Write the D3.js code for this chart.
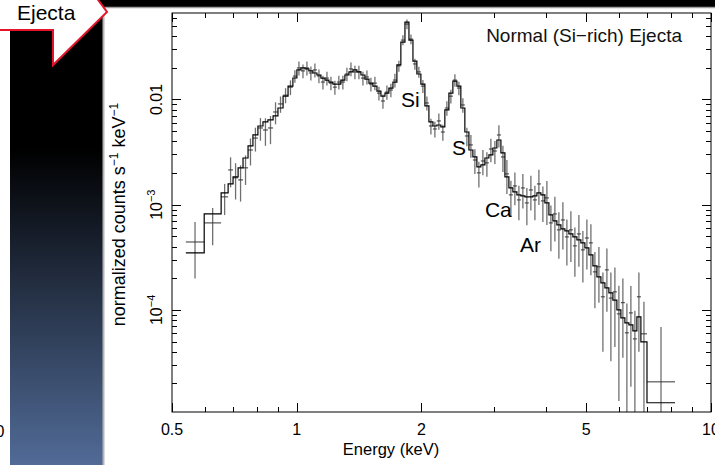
<!DOCTYPE html>
<html>
<head>
<meta charset="utf-8">
<script src="https://cdn.jsdelivr.net/npm/d3@7"></script>
<style>
  html, body { margin: 0; padding: 0; background: #fff; }
  svg { display: block; font-family: "Liberation Sans", Arial, Helvetica, sans-serif; }
</style>
</head>
<body>
<svg id="chart" width="715" height="465"></svg>
<script>
// Spectrum bins: energy edges (keV), measured rate, 1-sigma error, folded model
const edges = [
  0.540, 0.598, 0.657, 0.683, 0.702, 0.722, 0.742, 0.763, 0.784, 0.806, 0.829, 0.852, 0.877, 0.901, 0.927, 0.953, 0.979,
  1.001, 1.024, 1.047, 1.070, 1.094, 1.119, 1.144, 1.170, 1.196, 1.223, 1.250, 1.278, 1.307, 1.337, 1.367, 1.397,
  1.429, 1.461, 1.494, 1.527, 1.562, 1.597, 1.633, 1.669, 1.707, 1.745, 1.784, 1.825, 1.866, 1.908, 1.950, 1.994,
  2.039, 2.085, 2.132, 2.179, 2.228, 2.278, 2.330, 2.382, 2.436, 2.490, 2.546, 2.604, 2.662, 2.722, 2.783, 2.846,
  2.910, 2.975, 3.042, 3.111, 3.181, 3.252, 3.325, 3.400, 3.476, 3.554, 3.634, 3.716, 3.800, 3.885, 3.972, 4.062,
  4.153, 4.246, 4.342, 4.439, 4.539, 4.641, 4.746, 4.852, 4.961, 5.073,
  5.187, 5.304, 5.423, 5.545, 5.669, 5.797, 5.927, 6.060, 6.196, 6.336, 6.478, 6.624, 6.773, 7.006, 8.187
];

const rate = [
  0.000442, 0.000671, 0.001187, 0.00214, 0.0018, 0.00172, 0.00224, 0.00331, 0.0043, 0.00536, 0.00513, 0.00536,
  0.00761, 0.00907, 0.0110, 0.0131, 0.0167,
  0.01995, 0.01869, 0.01995, 0.01786, 0.0191, 0.01673, 0.01465, 0.01598, 0.01431, 0.01311,
  0.01465, 0.01465, 0.01748, 0.01952, 0.01828, 0.01828, 0.01598, 0.01637, 0.0140, 0.01431,
  0.01149, 0.009676, 0.01177, 0.0123, 0.0153, 0.02084, 0.0367, 0.05213, 0.03751, 0.02177,
  0.01828, 0.0134, 0.009266, 0.0056, 0.005243, 0.006252, 0.00491, 0.0083, 0.01076, 0.0153,
  0.01285, 0.00887, 0.0045, 0.0037, 0.00266, 0.002006, 0.002603, 0.002497, 0.003383, 0.003239,
  0.0046, 0.002843, 0.001962, 0.00124, 0.001507, 0.00111, 0.001442, 0.001039, 0.00138, 0.00111,
  0.001574, 0.001086, 0.00116, 0.000671, 0.000817, 0.000576, 0.000716, 0.000494, 0.000576, 0.000406,
  0.0005274, 0.000372, 0.0004826,
  0.0004335, 0.0002298, 0.0002566, 0.0001331, 0.00024, 0.0001295, 0.0001484, 0.0000916, 0.000117,
  0.0000605, 0.0000936, 0.000053, 0.0001331, 0.0000592, 0.0000207
];

const sigma = [
  0.000243, 0.00026, 0.00039, 0.00068, 0.00068, 0.00065, 0.0007, 0.00095, 0.0011, 0.0013, 0.0015, 0.0016,
  0.0018, 0.0016, 0.0018, 0.0021, 0.0023,
  0.0030, 0.0028, 0.0030, 0.0027, 0.0029, 0.0025, 0.0022, 0.0024, 0.0021, 0.0020,
  0.0022, 0.0022, 0.0026, 0.0029, 0.0027, 0.0027, 0.0024, 0.0025, 0.0021, 0.0021,
  0.0017, 0.0015, 0.0018, 0.0018, 0.0023, 0.0025, 0.0040, 0.0055, 0.0040, 0.0026,
  0.0022, 0.0019, 0.0014, 0.00095, 0.0009, 0.0011, 0.00085, 0.0013, 0.0016, 0.0021,
  0.0019, 0.0014, 0.0009, 0.0009, 0.0007, 0.00055, 0.0007, 0.00065, 0.00085, 0.0008,
  0.0011, 0.0008, 0.0007, 0.00045, 0.00052, 0.0004, 0.00052, 0.0004, 0.0005, 0.0004,
  0.00058, 0.0004, 0.00052, 0.00031, 0.00037, 0.00027, 0.00034, 0.00023, 0.00029, 0.0002,
  0.00027, 0.00019, 0.00024,
  0.00022, 0.000126, 0.00014, 0.000093, 0.000144, 0.000097, 0.000104, 0.000078, 0.000082,
  0.0000545, 0.000075, 0.000045, 0.000093, 0.00006, 0.000048
];

const model = [
  0.000348, 0.000817, 0.001295, 0.001574, 0.001838, 0.002235, 0.002779, 0.00362, 0.0046, 0.0056, 0.00612, 0.00639,
  0.00698, 0.0083, 0.01076, 0.0134, 0.0160,
  0.0191, 0.01995, 0.01952, 0.01869, 0.01786, 0.0171, 0.01598, 0.0153, 0.01465, 0.0140,
  0.0140, 0.0153, 0.0171, 0.01828, 0.0191, 0.01828, 0.0171, 0.01564, 0.01431, 0.0134,
  0.01203, 0.01076, 0.01149, 0.01285, 0.01465, 0.0213, 0.03513, 0.05447, 0.0367, 0.02319,
  0.01748, 0.0140, 0.00868, 0.00612, 0.0056, 0.00572, 0.00548, 0.00795, 0.01149, 0.01497,
  0.0134, 0.0083, 0.00491, 0.00331, 0.002843, 0.002288, 0.00239, 0.002779, 0.00297, 0.003458,
  0.00412, 0.003102, 0.001838, 0.001442, 0.001321, 0.00124, 0.001213, 0.001187, 0.001187, 0.001213,
  0.001295, 0.00124, 0.001039, 0.000799, 0.0007005, 0.000642, 0.000589, 0.0005636, 0.0005274, 0.000494,
  0.000462, 0.0004335, 0.0003886,
  0.000333, 0.0002622, 0.0002058, 0.0001807, 0.0001619, 0.0001452, 0.000124, 0.0001, 0.000084,
  0.0000752, 0.000072, 0.0000632, 0.0000858, 0.0000497, 0.0000131
];

// Axis ticks
const xMajorTicks = [0.5, 1, 2, 5, 10];
const xTickLabels = ["0.5", "1", "2", "5", "10"];
const xMinorTicks = [0.6, 0.7, 0.8, 0.9, 3, 4, 6, 7, 8, 9];
const yMajorTicks = [1e-4, 1e-3, 1e-2];
const yTickLabels = [["10", "−4"], ["10", "−3"], ["0.01", null]];
const yMinorTicks = [
  2e-5, 3e-5, 4e-5, 5e-5, 6e-5, 7e-5, 8e-5, 9e-5,
  2e-4, 3e-4, 4e-4, 5e-4, 6e-4, 7e-4, 8e-4, 9e-4,
  2e-3, 3e-3, 4e-3, 5e-3, 6e-3, 7e-3, 8e-3, 9e-3,
  0.02, 0.03, 0.04, 0.05, 0.06
];

// Emission-line annotations (energy, rate at label baseline)
const lineNames = ["Si", "S", "Ca", "Ar"];
const lineLabelE = [1.785, 2.371, 2.846, 3.458];
const lineLabelRate = [0.00849, 0.00297, 0.000765, 0.000356];

const svg = d3.select("#chart");
const W = 715, H = 465;
const plot = { left: 172, right: 711, top: 13, bottom: 412 };

const x = d3.scaleLog().domain([0.5, 10]).range([plot.left, plot.right]);
const y = d3.scaleLog().domain([1.07e-5, 0.0664]).range([plot.bottom, plot.top]);

// ---- slide backdrop: dark side panel, top strip and the callout ----
const defs = svg.append("defs");
const grad = defs.append("linearGradient").attr("id", "panelFade")
  .attr("x1", 0).attr("y1", 0).attr("x2", 0).attr("y2", 1);
grad.append("stop").attr("offset", "0%").attr("stop-color", "#000");
grad.append("stop").attr("offset", "32%").attr("stop-color", "#000");
grad.append("stop").attr("offset", "100%").attr("stop-color", "#516b97");

defs.append("clipPath").attr("id", "plotClip").append("rect")
  .attr("x", plot.left).attr("y", plot.top)
  .attr("width", plot.right - plot.left).attr("height", plot.bottom - plot.top);

svg.append("rect").attr("x", 0).attr("y", 0).attr("width", W).attr("height", H).attr("fill", "#fff");
svg.append("rect").attr("x", 10).attr("y", 0).attr("width", 93).attr("height", H).attr("fill", "url(#panelFade)");
svg.append("rect").attr("x", 0).attr("y", 0).attr("width", W).attr("height", 7).attr("fill", "#000");
svg.append("line").attr("x1", 103.5).attr("x2", 103.5).attr("y1", 7).attr("y2", H)
  .attr("stroke", "#b4b4b4").attr("stroke-width", 2);
svg.append("line").attr("x1", 103).attr("x2", W).attr("y1", 7.5).attr("y2", 7.5)
  .attr("stroke", "#a0a0a0").attr("stroke-width", 1.5);

svg.append("polygon")
  .attr("points", "-3,-3 96,-3 107,12 53,65 53,30 -3,30")
  .attr("fill", "#fff").attr("stroke", "#e3142b").attr("stroke-width", 2)
  .attr("stroke-linejoin", "miter");
svg.append("text").attr("x", 17).attr("y", 20).attr("font-size", 21).attr("fill", "#000").text("Ejecta");

svg.append("text").attr("x", 4.5).attr("y", 437).attr("text-anchor", "end")
  .attr("font-size", 16).attr("fill", "#000").text("0");

// ---- spectrum ----
const bins = rate.map((r, i) => ({
  e0: edges[i], e1: edges[i + 1], ec: Math.sqrt(edges[i] * edges[i + 1]),
  r: r, s: sigma[i], m: model[i]
}));

const g = svg.append("g").attr("clip-path", "url(#plotClip)");

// error bars (vertical)
g.append("g").selectAll("line").data(bins).join("line")
  .attr("x1", d => x(d.ec)).attr("x2", d => x(d.ec))
  .attr("y1", d => y(d.r + d.s))
  .attr("y2", d => (d.r - d.s) > y.domain()[0] ? y(d.r - d.s) : plot.bottom + 2)
  .attr("stroke", "#707070").attr("stroke-width", 1.3);

// bin widths (horizontal)
g.append("g").selectAll("line").data(bins).join("line")
  .attr("x1", d => x(d.e0)).attr("x2", d => x(d.e1))
  .attr("y1", d => y(d.r)).attr("y2", d => y(d.r))
  .attr("stroke", "#333").attr("stroke-width", 1);

// folded model as a step histogram
const stepPts = bins.map(d => [d.e0, d.m]);
stepPts.push([edges[edges.length - 1], model[model.length - 1]]);
g.append("path")
  .attr("d", d3.line().x(d => x(d[0])).y(d => y(d[1])).curve(d3.curveStepAfter)(stepPts))
  .attr("fill", "none").attr("stroke", "#000").attr("stroke-width", 1.2);

// ---- frame & ticks ----
svg.append("rect").attr("x", plot.left).attr("y", plot.top)
  .attr("width", plot.right - plot.left).attr("height", plot.bottom - plot.top)
  .attr("fill", "none").attr("stroke", "#000").attr("stroke-width", 1);

const tickG = svg.append("g").attr("stroke", "#000").attr("stroke-width", 1);
function xTick(v, len) {
  const px = Math.round(x(v)) + 0.5;
  tickG.append("line").attr("x1", px).attr("x2", px).attr("y1", plot.bottom).attr("y2", plot.bottom - len);
  tickG.append("line").attr("x1", px).attr("x2", px).attr("y1", plot.top).attr("y2", plot.top + len);
}
function yTick(v, len) {
  const py = Math.round(y(v)) + 0.5;
  tickG.append("line").attr("x1", plot.left).attr("x2", plot.left + len).attr("y1", py).attr("y2", py);
  tickG.append("line").attr("x1", plot.right).attr("x2", plot.right - len).attr("y1", py).attr("y2", py);
}
xMajorTicks.forEach(v => xTick(v, 9));
xMinorTicks.forEach(v => xTick(v, 5));
yMajorTicks.forEach(v => yTick(v, 9));
yMinorTicks.forEach(v => yTick(v, 5));

// x tick labels
svg.append("g").selectAll("text").data(xMajorTicks).join("text")
  .attr("x", d => x(d)).attr("y", 435).attr("text-anchor", "middle")
  .attr("font-size", 16).attr("fill", "#000")
  .text((d, i) => xTickLabels[i]);

// y tick labels (rotated)
yMajorTicks.forEach((v, i) => {
  const t = svg.append("text")
    .attr("transform", `translate(162,${y(v)}) rotate(-90)`)
    .attr("text-anchor", "middle").attr("font-size", 16).attr("fill", "#000");
  t.append("tspan").text(yTickLabels[i][0]);
  if (yTickLabels[i][1]) {
    t.append("tspan").attr("dy", -7).attr("font-size", 11).text(yTickLabels[i][1]);
  }
});

// axis titles
svg.append("text").attr("x", 391).attr("y", 455).attr("text-anchor", "middle")
  .attr("font-size", 16.5).attr("fill", "#000").text("Energy (keV)");

const yTitle = svg.append("text")
  .attr("transform", "translate(125,214.5) rotate(-90)")
  .attr("text-anchor", "middle").attr("font-size", 18).attr("fill", "#000");
yTitle.append("tspan").text("normalized counts s");
yTitle.append("tspan").attr("dy", -7).attr("font-size", 12).text("−1");
yTitle.append("tspan").attr("dy", 7).text(" keV");
yTitle.append("tspan").attr("dy", -7).attr("font-size", 12).text("−1");

// panel title and line identifications
svg.append("text").attr("x", 682).attr("y", 42).attr("text-anchor", "end")
  .attr("font-size", 19).attr("fill", "#111").text("Normal (Si−rich) Ejecta");

svg.append("g").selectAll("text").data(lineNames).join("text")
  .attr("x", (d, i) => x(lineLabelE[i])).attr("y", (d, i) => y(lineLabelRate[i]))
  .attr("font-size", 21).attr("fill", "#000").text(d => d);
</script>
</body>
</html>
